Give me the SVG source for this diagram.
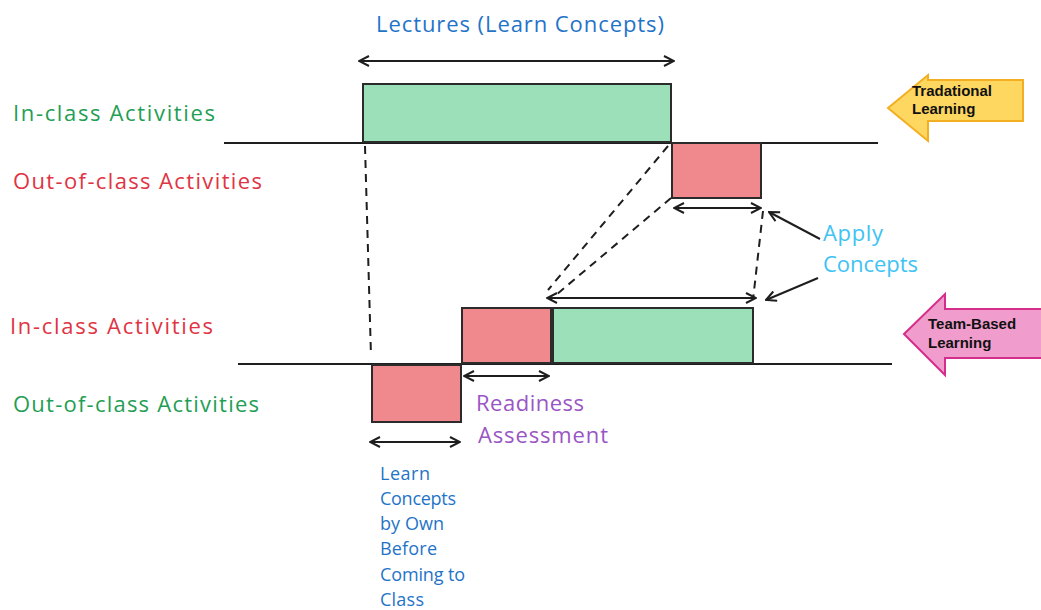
<svg xmlns="http://www.w3.org/2000/svg" width="1041" height="610" viewBox="0 0 1041 610">
<style>
.t{font-family:"Open Sans","DejaVu Sans",sans-serif;}
.big{font-size:22px;}
.sm{font-size:18px;}
.bx{stroke:#2b2b2b;stroke-width:2;}
.g{fill:#9ce0b9;}
.r{fill:#f0898e;}
.ln{stroke:#1e1e1e;stroke-width:2;fill:none;}
.ds{stroke:#1e1e1e;stroke-width:2;stroke-dasharray:8 6;fill:none;}
.ar{stroke:#1e1e1e;stroke-width:2;fill:none;marker-start:url(#h);marker-end:url(#h);}
.ar1{stroke:#1e1e1e;stroke-width:2;fill:none;marker-end:url(#h);}
.lb{font-family:"Liberation Sans",Arial,sans-serif;font-weight:bold;font-size:15px;fill:#111;}
</style>
<defs>
<marker id="h" viewBox="0 0 12 12" refX="11" refY="6" markerWidth="12" markerHeight="12" markerUnits="userSpaceOnUse" orient="auto-start-reverse">
<path d="M1,1 L11,6 L1,11" fill="none" stroke="#1e1e1e" stroke-width="2"/>
</marker>
</defs>
<rect width="1041" height="610" fill="#fff"/>

<g id="labels">
<text class="t big" x="376" y="32" fill="#1f74c8" textLength="288">Lectures (Learn Concepts)</text>
<text class="t big" x="13" y="121" fill="#1f9e55" textLength="202">In-class Activities</text>
<text class="t big" x="13" y="189" fill="#e03444" textLength="249">Out-of-class Activities</text>
<text class="t big" x="10" y="334" fill="#e03444" textLength="203">In-class Activities</text>
<text class="t big" x="13" y="412" fill="#1f9e55" textLength="246">Out-of-class Activities</text>
<text class="t big" x="823" y="241" fill="#3ec3f2" textLength="60">Apply</text>
<text class="t big" x="823" y="272" fill="#3ec3f2" textLength="95">Concepts</text>
<text class="t big" x="476" y="411" fill="#9a55c4" textLength="108">Readiness</text>
<text class="t big" x="478" y="443" fill="#9a55c4" textLength="130">Assessment</text>
<g class="t sm" fill="#1f74c8">
<text x="380" y="480" textLength="50">Learn</text>
<text x="380" y="505" textLength="76">Concepts</text>
<text x="380" y="530" textLength="64">by Own</text>
<text x="380" y="555" textLength="57">Before</text>
<text x="380" y="581" textLength="85">Coming to</text>
<text x="380" y="606" textLength="44">Class</text>
</g>
</g>

<g id="connectors">
<line class="ln" x1="224" y1="143" x2="878" y2="143"/>
<line class="ln" x1="238" y1="364" x2="892" y2="364"/>
<line class="ds" x1="365" y1="146" x2="371" y2="356"/>
<line class="ds" x1="668" y1="146" x2="548" y2="290"/>
<line class="ds" x1="671" y1="198" x2="550" y2="300"/>
<line class="ds" x1="763" y1="211" x2="753" y2="300"/>
<line class="ar" x1="359" y1="61" x2="674" y2="61"/>
<line class="ar" x1="674" y1="208" x2="761" y2="208"/>
<line class="ar" x1="547" y1="298" x2="756" y2="298"/>
<line class="ar" x1="464" y1="376" x2="549" y2="376"/>
<line class="ar" x1="370" y1="442" x2="460" y2="442"/>
<line class="ar1" x1="820" y1="239" x2="769" y2="212"/>
<line class="ar1" x1="818" y1="278" x2="766" y2="300"/>
</g>

<g id="lectures-box"><rect class="bx g" x="363" y="84" width="308" height="58"/></g>
<g id="apply-top-box"><rect class="bx r" x="672" y="143" width="89" height="55"/></g>
<g id="readiness-box"><rect class="bx r" x="462" y="308" width="89" height="55"/></g>
<g id="apply-bottom-box"><rect class="bx g" x="553" y="308" width="200" height="55"/></g>
<g id="prework-box"><rect class="bx r" x="372" y="365" width="89" height="57"/></g>

<g id="traditional">
<path d="M888,108 L928,75 L928,80 L1023,80 L1023,121 L928,121 L928,141 Z" fill="#fdd760" stroke="#f3ae22" stroke-width="2"/>
<text class="lb" x="912" y="96">Tradational</text>
<text class="lb" x="912" y="114">Learning</text>
</g>
<g id="team-based">
<path d="M904,334 L945,294 L945,309 L1045,309 L1045,358 L945,358 L945,375 Z" fill="#f09ccd" stroke="#d52d8a" stroke-width="2"/>
<text class="lb" x="928" y="329">Team-Based</text>
<text class="lb" x="928" y="348">Learning</text>
</g>
</svg>
